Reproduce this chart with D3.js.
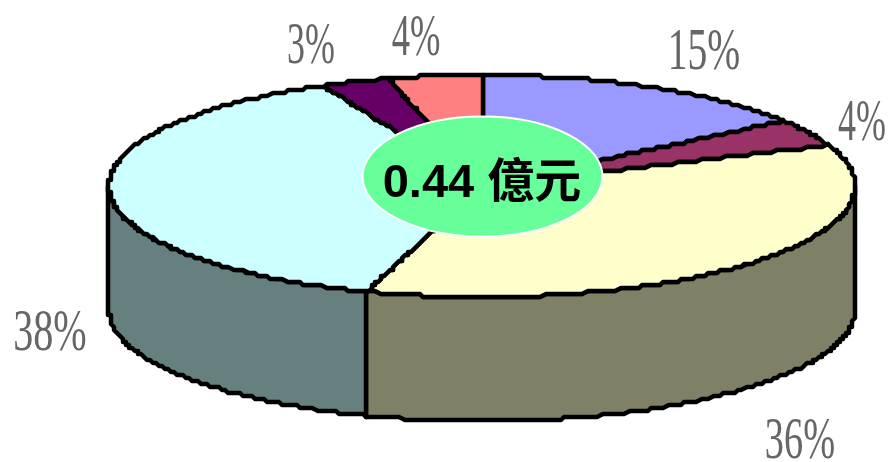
<!DOCTYPE html>
<html><head><meta charset="utf-8">
<script src="https://cdn.jsdelivr.net/npm/d3@7/dist/d3.min.js"></script>
<style>html,body{margin:0;padding:0;background:#fff}svg{display:block}</style>
</head><body><svg id="c" width="890" height="462"></svg>
<script>
const labels = ["15%","4%","36%","38%","3%","4%"];
const values = [15,4,36,38,3,4];
const topColors = ["#9999FF","#993366","#FFFFCC","#CCFFFF","#660066","#FF8080"];
const wallColors = ["#4D4D80","#4D1A33","#808066","#668080","#330033","#804040"];
const labelX = [704,862,800,50,311,416];
const labelY = [69,140,458,350,63,55];
const labelScale = [0.67,0.61,0.65,0.68,0.61,0.62];
const centerText = "0.44 億元";

const svg = d3.select("#c");
const defs = svg.append("defs");
defs.append("filter").attr("id","soft").append("feGaussianBlur").attr("stdDeviation",0.6);
defs.append("filter").attr("id","softer").append("feGaussianBlur").attr("stdDeviation",0.6);

const x = d3.scaleLinear().domain([-1,1]).range([109,855]);
const y = d3.scaleLinear().domain([-1,1]).range([75,297]);
const depth = 124;
const GRID = 3;
const snap = v => Math.round(v/GRID)*GRID;
const px = a => x(Math.sin(a));
const py = a => y(-Math.cos(a));
const arcs = d3.pie().sort(null).value(d=>d)(values);
const line = d3.line();
const STEP = Math.PI/240;
const sample = (a0,a1)=>{const n=Math.max(1,Math.ceil((a1-a0)/STEP));return d3.range(n+1).map(i=>a0+(a1-a0)*i/n);};
const snapAll = pts => pts.map(p=>[snap(p[0]),snap(p[1])]).filter((p,i,a)=>!i||p[0]!==a[i-1][0]||p[1]!==a[i-1][1]);
const cx=x(0), cy=y(0);
const radial=(a,rev)=>{const r=d3.range(0,1.0001,1/60).map(t=>[cx+(px(a)-cx)*t,cy+(py(a)-cy)*t]);return rev?r.reverse():r;};

const g = svg.append("g").attr("filter","url(#soft)");
arcs.forEach((d,i)=>{
  const a0=Math.max(d.startAngle,Math.PI/2), a1=Math.min(d.endAngle,Math.PI*1.5);
  if(a1<=a0) return;
  const as=sample(a0,a1);
  const pts=as.map(a=>[px(a),py(a)]).concat(as.slice().reverse().map(a=>[px(a),py(a)+depth]));
  g.append("path").attr("d",line(snapAll(pts))+"Z").attr("fill",wallColors[i])
   .attr("stroke","#000").attr("stroke-width",4.5).attr("stroke-linejoin","round");
});
arcs.forEach((d,i)=>{
  const pts=radial(d.startAngle,false).concat(sample(d.startAngle,d.endAngle).map(a=>[px(a),py(a)]),radial(d.endAngle,true));
  g.append("path").attr("d",line(snapAll(pts))+"Z").attr("fill",topColors[i])
   .attr("stroke","#000").attr("stroke-width",4.5).attr("stroke-linejoin","round");
});
const lg=svg.append("g").attr("filter","url(#softer)");
labels.forEach((t,i)=>{
  lg.append("text").attr("transform",`translate(${labelX[i]},${labelY[i]}) scale(${labelScale[i]},1)`)
   .attr("text-anchor","middle")
   .attr("font-family","'Liberation Serif',serif").attr("font-size",59).attr("fill","#666")
   .text(t);
});
svg.append("ellipse").attr("cx",482.5).attr("cy",176.5).attr("rx",120).attr("ry",60)
  .attr("fill","#66FF99").attr("stroke","#fff").attr("stroke-width",2);
svg.append("text").attr("x",482).attr("y",197).attr("text-anchor","middle")
  .attr("font-family","'Liberation Sans','Noto Sans CJK TC',sans-serif").attr("font-weight","bold")
  .attr("font-size",47).attr("fill","#000").text(centerText);
</script></body></html>
